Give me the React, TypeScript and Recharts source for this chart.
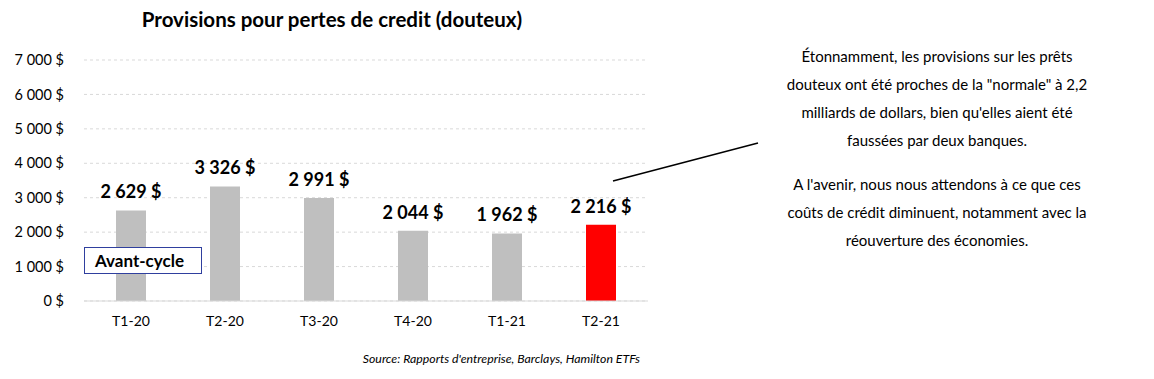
import React from 'react';
import {
  BarChart,
  Bar,
  XAxis,
  YAxis,
  CartesianGrid,
  Cell,
  LabelList,
} from 'recharts';

// ---------------------------------------------------------------------------
// Data
// ---------------------------------------------------------------------------

const QUARTERS = ['T1-20', 'T2-20', 'T3-20', 'T4-20', 'T1-21', 'T2-21'];
const PROVISIONS = [2629, 3326, 2991, 2044, 1962, 2216];
const Y_TICKS = [0, 1000, 2000, 3000, 4000, 5000, 6000, 7000];

const TITLE = 'Provisions pour pertes de credit (douteux)';
const SOURCE = "Source: Rapports d'entreprise, Barclays, Hamilton ETFs";
const BOX_LABEL = 'Avant-cycle';
const NOTE_1 = [
  'Étonnamment, les provisions sur les prêts',
  'douteux ont été proches de la "normale" à 2,2',
  "milliards de dollars, bien qu'elles aient été",
  'faussées par deux banques.',
];
const NOTE_2 = [
  "A l'avenir, nous nous attendons à ce que ces",
  'coûts de crédit diminuent, notamment avec la',
  'réouverture des économies.',
];

const FONT = 'Lato, "Open Sans", sans-serif';
const GREY = '#BFBFBF';
const RED = '#FF0000';

const chartData = QUARTERS.map((q, i) => ({ name: q, value: PROVISIONS[i] }));

// French style thousands with a plain space
const fmt = (v: number) => `${String(v).replace(/\B(?=(\d{3})+(?!\d))/g, ' ')} $`;

// value label above each bar, kept on one line
function ValueLabel(props: any) {
  const { x = 0, y = 0, width = 0, value } = props;
  return (
    <text
      x={x + width / 2}
      y={y - 12}
      textAnchor="middle"
      fill="#000"
      fontWeight={700}
      fontSize={18}
      fontFamily={FONT}
    >
      {fmt(Number(value))}
    </text>
  );
}

export default function App() {
  return (
    <div
      style={{
        position: 'absolute',
        left: 0,
        top: 0,
        width: 1154,
        height: 379,
        background: '#fff',
        fontFamily: FONT,
        color: '#000',
      }}
    >
      {/* Title */}
      <div
        style={{
          position: 'absolute',
          left: 0,
          width: 664,
          top: 7,
          textAlign: 'center',
          fontWeight: 700,
          fontSize: 20.5,
        }}
      >
        {TITLE}
      </div>

      <BarChart
        width={1154}
        height={379}
        data={chartData}
        margin={{ top: 60, right: 506, bottom: 48, left: 0 }}
        barSize={30}
      >
        <CartesianGrid vertical={false} stroke="#D9D9D9" strokeDasharray="3 3" />
        <XAxis
          dataKey="name"
          tickLine={false}
          axisLine={{ stroke: '#D9D9D9' }}
          height={30}
          tick={{ fill: '#000', fontSize: 14, fontFamily: FONT }}
          tickMargin={9}
        />
        <YAxis
          width={84}
          domain={[0, 7000]}
          ticks={Y_TICKS}
          tickFormatter={fmt}
          axisLine={false}
          tickLine={false}
          tick={{ fill: '#000', fontSize: 14.5, fontFamily: FONT }}
          tickMargin={14}
        />
        <Bar dataKey="value" isAnimationActive={false}>
          {chartData.map((_d, i) => (
            <Cell key={`c-${i}`} fill={i === chartData.length - 1 ? RED : GREY} />
          ))}
          <LabelList dataKey="value" content={<ValueLabel />} />
        </Bar>
      </BarChart>

      {/* Avant-cycle box */}
      <div
        style={{
          position: 'absolute',
          left: 84,
          top: 247,
          width: 118,
          height: 27,
          border: '1px solid #2F3F9E',
          background: '#fff',
          fontWeight: 700,
          fontSize: 17,
          lineHeight: '25px',
          paddingLeft: 10,
          boxSizing: 'border-box',
        }}
      >
        {BOX_LABEL}
      </div>

      {/* Callout line */}
      <svg
        width={1154}
        height={379}
        style={{ position: 'absolute', left: 0, top: 0, pointerEvents: 'none' }}
      >
        <line x1={613} y1={181} x2={758} y2={143} stroke="#000" strokeWidth={1.5} />
      </svg>

      {/* Commentary */}
      <div
        style={{
          position: 'absolute',
          left: 770,
          width: 334,
          top: 42,
          textAlign: 'center',
          fontSize: 15,
          lineHeight: '28px',
        }}
      >
        {NOTE_1.map((l) => (
          <div key={l}>{l}</div>
        ))}
        <div style={{ height: 16 }} />
        {NOTE_2.map((l) => (
          <div key={l}>{l}</div>
        ))}
      </div>

      {/* Source */}
      <div
        style={{
          position: 'absolute',
          right: 1154 - 640,
          top: 351,
          fontStyle: 'italic',
          fontSize: 12.3,
        }}
      >
        {SOURCE}
      </div>
    </div>
  );
}
